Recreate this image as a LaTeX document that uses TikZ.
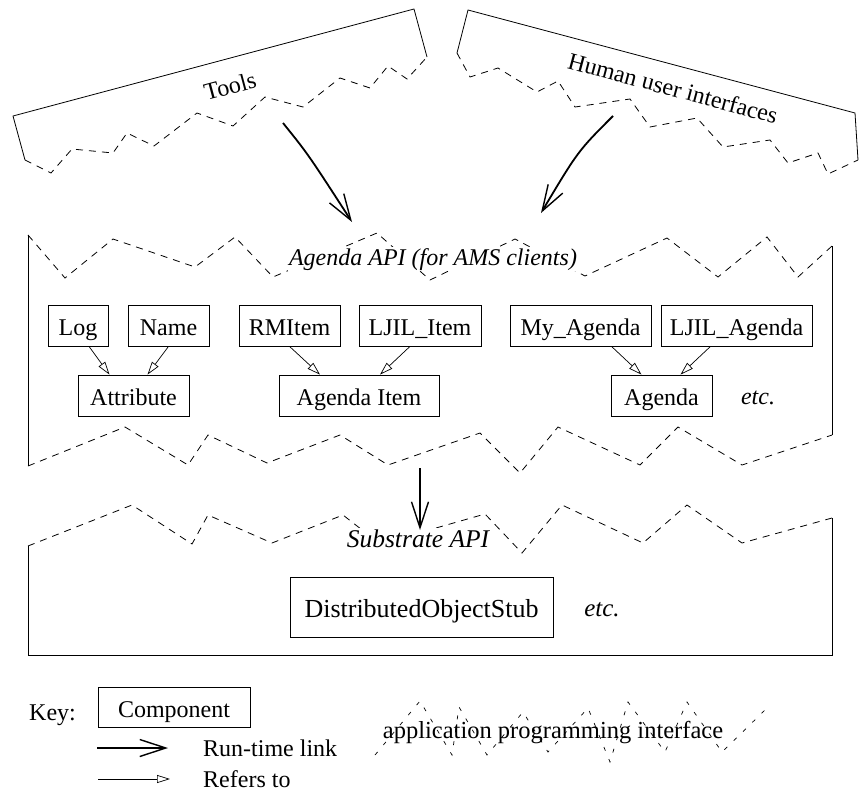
\documentclass[tikz,border=0pt]{standalone}
\usepackage{fontspec}
\setmainfont{Liberation Serif}
\usetikzlibrary{arrows.meta}
\begin{document}
\begin{tikzpicture}[x=1pt,y=-1pt,
  txt/.style={font=\fontsize{24}{28}\selectfont},
  comp/.style={txt,draw,line width=0.8pt,inner sep=2pt,text height=22pt,text depth=2pt,minimum height=41pt},
  edge/.style={line width=0.8pt},
  api/.style={line width=0.8pt,dash pattern=on 7pt off 6pt},
  keyapi/.style={line width=0.7pt,dash pattern=on 4pt off 9pt},
  runtime/.style={line width=1.8pt,-{Straight Barb[length=26pt,width=17pt,line width=1.4pt]}},
  refers/.style={line width=0.7pt,-{Triangle[open,length=13pt,width=8pt,line width=0.7pt]}},
  label/.style={txt,inner sep=1pt,anchor=base},
  apilabel/.style={label,fill=white,font=\fontsize{24}{28}\selectfont\itshape}]
\useasboundingbox (0,0) rectangle (859,792);

% Tools
\draw[edge] (25,160) -- (13,116) -- (414,9) -- (427,57);
\draw[api] (25,160) -- (51,173) -- (72,149) -- (113,153) -- (127,133) -- (154,146)
  -- (197,113) -- (233,126) -- (265,97) -- (303,107) -- (340,78) -- (370,88)
  -- (388,66) -- (407,79) -- (427,57);
\node[txt,rotate=15] (tools) at (230,86) {Tools};

% Human user interfaces
\draw[edge] (457,53) -- (468,10) -- (855,113) -- (858,160);
\draw[api] (457,53) -- (470,77) -- (498,68) -- (537,92) -- (558,81) -- (575,107)
  -- (630,99) -- (650,127) -- (697,118) -- (723,147) -- (770,140) -- (788,163)
  -- (818,153) -- (828,174) -- (858,160);
\node[txt,rotate=-15] (hui) at (673,88) {Human user interfaces};

% Agenda API
\draw[edge] (28,235) -- (28,466);
\draw[edge] (832,246) -- (832,435);
\draw[api] (28,235) -- (65,278) -- (113,239) -- (195,267) -- (235,237) -- (273,277)
  -- (377,233) -- (430,280) -- (515,239) -- (585,276) -- (667,238) -- (718,277)
  -- (767,237) -- (798,277) -- (832,246);
\draw[api] (28,466) -- (125,427) -- (188,465) -- (208,435) -- (267,463) -- (340,435)
  -- (388,465) -- (480,433) -- (520,473) -- (558,427) -- (640,465) -- (678,427)
  -- (742,465) -- (832,435);
\node[apilabel] (agapi) at (433,265) {Agenda API (for AMS clients)};

\node[comp,minimum width=60pt]  (log)    at (78,325.5)   {Log};
\node[comp,minimum width=81pt]  (name)   at (168.5,325.5) {Name};
\node[comp,minimum width=101pt] (rmitem) at (289.5,325.5) {RMItem};
\node[comp,minimum width=122pt] (ljitem) at (420,325.5)  {LJIL\_Item};
\node[comp,minimum width=141pt] (myag)   at (580.5,325.5) {My\_Agenda};
\node[comp,minimum width=151pt] (ljag)   at (736.5,325.5) {LJIL\_Agenda};
\node[comp,minimum width=111pt] (attr)   at (133.5,395.5) {Attribute};
\node[comp,minimum width=160pt] (aitem)  at (359,395.5)  {Agenda Item};
\node[comp,minimum width=101pt] (agenda) at (661.5,395.5) {Agenda};
\node[label,font=\fontsize{24}{28}\selectfont\itshape] (etc1) at (758,404) {etc.};

\draw[refers] ([xshift=11pt]log.south) -- ([xshift=-24pt]attr.north);
\draw[refers] (name.south) -- ([xshift=14pt]attr.north);
\draw[refers] (rmitem.south) -- ([xshift=-39pt]aitem.north);
\draw[refers] ([xshift=-10pt]ljitem.south) -- ([xshift=21pt]aitem.north);
\draw[refers] ([xshift=31pt]myag.south) -- ([xshift=-20pt]agenda.north);
\draw[refers] ([xshift=-26pt]ljag.south) -- ([xshift=19pt]agenda.north);

% Substrate API
\draw[edge] (28,546) -- (28,655) -- (832,655) -- (832,518);
\draw[api] (28,546) -- (132,505) -- (192,544) -- (208,515) -- (272,543) -- (343,515)
  -- (380,544) -- (485,514) -- (522,553) -- (562,505) -- (643,543) -- (687,505)
  -- (742,543) -- (832,518);
\node[apilabel,font=\fontsize{25.5}{29}\selectfont\itshape] (subapi) at (418,547) {Substrate API};
\node[comp,minimum width=263pt,minimum height=60pt,font=\fontsize{26}{30}\selectfont] (dos) at (421.5,607) {DistributedObjectStub};
\node[label,font=\fontsize{25}{29}\selectfont\itshape] (etc2) at (602,616) {etc.};

% run-time links
\coordinate (t0) at (283,123);
\coordinate (t1) at (352,222);
\coordinate (h0) at (613,116);
\coordinate (h1) at (541,213);
\coordinate (m0) at (420,468);
\coordinate (m1) at (420,530);
\draw[runtime] (t0) .. controls (308,154) .. (t1);
\draw[runtime] (h0) .. controls (578,151) .. (h1);
\draw[runtime] (m0) -- (m1);

% key
\node[label,anchor=base west] (key) at (28,720) {Key:};
\node[comp,minimum width=152pt,minimum height=40pt] (kcomp) at (174,707) {Component};
\coordinate (k1a) at (97,748);
\coordinate (k1b) at (168,748);
\draw[runtime] (k1a) -- (k1b);
\node[label,anchor=base west] (krun) at (202,756) {Run-time link};
\coordinate (k2a) at (98,779);
\coordinate (k2b) at (170,779);
\draw[refers] (k2a) -- (k2b);
\node[label,anchor=base west] (kref) at (202,787) {Refers to};
\draw[keyapi] (375,755) -- (420,701) -- (452,755) -- (459,707) -- (487,755) -- (523,712)
  -- (548,752) -- (588,708) -- (610,762) -- (628,702) -- (665,752) -- (687,702)
  -- (722,752) -- (765,710);
\node[label,font=\fontsize{24.5}{28}\selectfont] (kapi) at (553,738) {application programming interface};
\end{tikzpicture}
\end{document}
